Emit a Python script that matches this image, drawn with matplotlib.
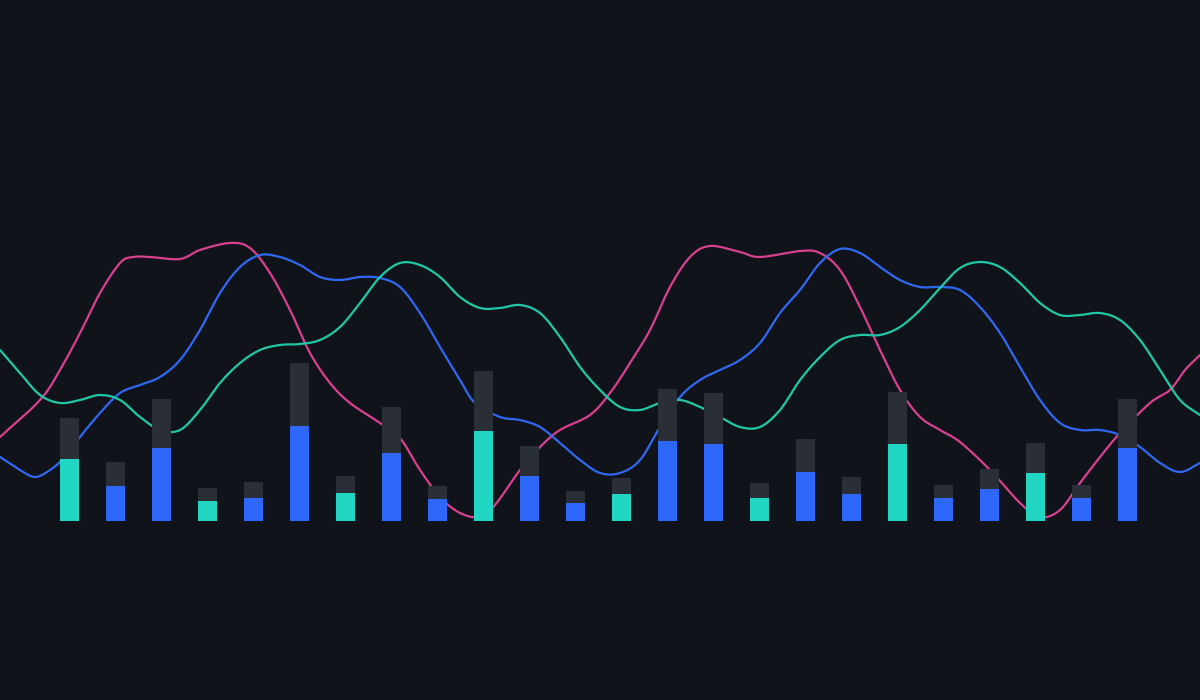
import numpy as np
import matplotlib
matplotlib.use('Agg')
import matplotlib.pyplot as plt

# bar heights (px above baseline): coloured part and full stack
base_vals = [62, 35, 73, 20, 23, 95, 28, 68, 22, 90, 45, 18,
             27, 80, 77, 23, 49, 27, 77, 23, 32, 48, 23, 73]
total_vals = [103, 59, 122, 33, 39, 158, 45, 114, 35, 150, 75, 30,
              43, 132, 128, 38, 82, 44, 129, 36, 52, 78, 36, 122]
kinds = ['t', 'b', 'b'] * 8

# lines
pink_x = [0, 40, 60, 80, 100, 120, 133, 150, 180, 200, 230, 250, 270, 290, 310, 330,
          350, 380, 400, 420, 440, 460, 480, 495, 520, 540, 560, 590, 610, 630, 650,
          670, 690, 710, 740, 760, 800, 820, 840, 860, 880, 900, 920, 940, 960, 990,
          1020, 1040, 1060, 1080, 1100, 1120, 1150, 1170, 1185, 1200]
pink_y = [84, 121, 151, 188, 228, 258, 264, 264, 262, 271, 278, 273, 248, 211, 168, 138,
          118, 98, 83, 51, 24, 8, 4, 16, 51, 74, 91, 106, 128, 158, 191,
          234, 264, 275, 269, 264, 270, 268, 251, 214, 171, 131, 104, 91, 79, 51,
          18, 4, 11, 38, 64, 88, 118, 131, 151, 166]

blue_x = [0, 20, 35, 50, 65, 80, 100, 120, 140, 160, 180, 200, 220, 240, 260, 280, 300,
          320, 340, 360, 380, 400, 420, 440, 460, 475, 500, 520, 540, 560, 580, 600,
          620, 640, 660, 680, 700, 720, 740, 760, 780, 800, 820, 840, 860, 880, 900,
          920, 940, 960, 980, 1000, 1020, 1040, 1060, 1080, 1100, 1120, 1140, 1160,
          1180, 1200]
blue_y = [64, 51, 44, 51, 64, 84, 108, 128, 136, 144, 161, 191, 228, 254, 266, 264, 256,
          244, 241, 244, 243, 234, 208, 174, 141, 118, 104, 101, 94, 78, 61, 48,
          48, 61, 94, 124, 141, 151, 161, 178, 208, 231, 258, 272, 268, 254, 241,
          234, 234, 231, 214, 188, 154, 121, 98, 91, 91, 86, 74, 58,
          49, 58]

teal_x = list(range(0, 1201, 20))
teal_y = [171, 148, 126, 118, 121, 126, 121, 104, 91, 91, 111, 138, 158, 171, 176, 177,
          181, 194, 218, 244, 258, 256, 244, 224, 213, 213, 216, 208, 184, 154, 131,
          114, 111, 118, 121, 114, 104, 94, 94, 111, 141, 164, 181, 186, 186, 194,
          211, 233, 253, 259, 254, 238, 218, 206, 206, 208, 201, 181, 151, 121, 106]

BG = '#10131a'
GRAY = '#2a2e36'
BAR_COL = {'t': '#22d6c4', 'b': '#2d68fb'}


def smooth(xs, ys, n=12):
    # catmull-rom through the read points, just for drawing
    x = np.asarray(xs, float)
    y = np.asarray(ys, float)
    px = np.concatenate([[2 * x[0] - x[1]], x, [2 * x[-1] - x[-2]]])
    py = np.concatenate([[2 * y[0] - y[1]], y, [2 * y[-1] - y[-2]]])
    t = np.linspace(0, 1, n, endpoint=False)
    ox, oy = [], []
    for i in range(1, len(px) - 2):
        for p, o in ((px, ox), (py, oy)):
            p0, p1, p2, p3 = p[i - 1], p[i], p[i + 1], p[i + 2]
            o.extend(0.5 * (2 * p1 + (-p0 + p2) * t +
                            (2 * p0 - 5 * p1 + 4 * p2 - p3) * t ** 2 +
                            (-p0 + 3 * p1 - 3 * p2 + p3) * t ** 3))
    ox.append(x[-1])
    oy.append(y[-1])
    return ox, oy


fig = plt.figure(figsize=(12, 7), dpi=100, facecolor=BG)
ax = fig.add_axes([0, 0, 1, 1])
ax.set_facecolor(BG)
ax.set_xlim(0, 1200)
ax.set_ylim(-179, 521)
ax.axis('off')

for xs, ys, col in ((pink_x, pink_y, '#d9408f'),
                    (blue_x, blue_y, '#2f69f2'),
                    (teal_x, teal_y, '#1fc9a8')):
    sx, sy = smooth(xs, ys)
    ax.plot(sx, sy, color=col, lw=1.6, solid_capstyle='round', zorder=2)

pos = 69 + 46 * np.arange(len(base_vals))
tops = np.array(total_vals) - np.array(base_vals)
ax.bar(pos, base_vals, width=19, color=[BAR_COL[k] for k in kinds], zorder=3)
ax.bar(pos, tops, bottom=base_vals, width=19, color=GRAY, zorder=3)

fig.savefig('out.png', dpi=100, facecolor=BG)
